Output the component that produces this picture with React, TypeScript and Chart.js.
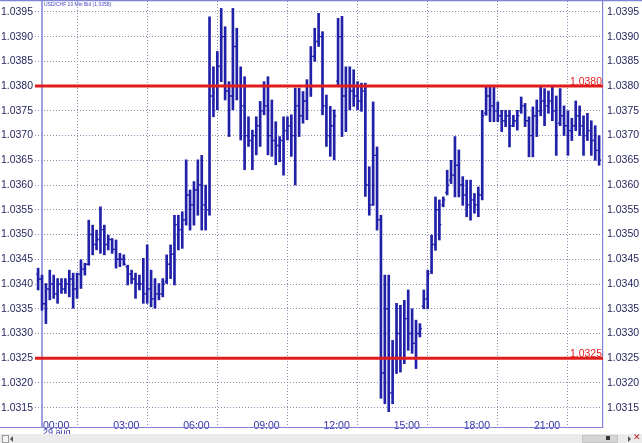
import React, { useEffect, useRef } from "react";
import { Chart, registerables } from "chart.js";

Chart.register(...registerables);

// ---------- data ----------
const TITLE = "USD/CHF 10 Min Bid (1.0358)";
const DATE_LABEL = "29 aug";
const TIME_LABELS = ["00:00", "03:00", "06:00", "09:00", "12:00", "15:00", "18:00", "21:00"];
const TIME_TICKS = [0, 18, 36, 54, 72, 90, 108, 126]; // bar index (10-min bars) of each time label
const Y_TICKS = [
  1.0315, 1.032, 1.0325, 1.033, 1.0335, 1.034, 1.0345, 1.035, 1.0355,
  1.036, 1.0365, 1.037, 1.0375, 1.038, 1.0385, 1.039, 1.0395,
];
const LEVELS = [1.038, 1.0325];
const FIRST_BAR = -1; // first bar is 23:50 of the previous day

const HIGH = [
  1.03432, 1.03418, 1.03401, 1.03428, 1.03418, 1.03411, 1.03411, 1.03411, 1.03428, 1.03422,
  1.03422, 1.03449, 1.03442, 1.03529, 1.03519, 1.03509, 1.03556, 1.03519, 1.03499, 1.03492,
  1.03489, 1.03462, 1.03459, 1.03438, 1.03428, 1.03422, 1.03418, 1.03452, 1.03479, 1.03428,
  1.03411, 1.03401, 1.03411, 1.03459, 1.03479, 1.03539, 1.03539, 1.03546, 1.03651, 1.0359,
  1.03607, 1.03651, 1.0366, 1.036, 1.0394, 1.03839, 1.0387, 1.03957, 1.0392, 1.03809,
  1.03957, 1.03917, 1.03839, 1.03819, 1.03738, 1.03711, 1.03738, 1.03769, 1.03809, 1.03819,
  1.03772, 1.03728, 1.03698, 1.03738, 1.03738, 1.03742, 1.03796, 1.03796, 1.03789, 1.03813,
  1.0388, 1.03917, 1.03947, 1.0391, 1.03782, 1.03759, 1.03752, 1.03937, 1.03941, 1.03839,
  1.03839, 1.03833, 1.03809, 1.03806, 1.03806, 1.03637, 1.03768, 1.03677, 1.03539, 1.03418,
  1.03418, 1.03286, 1.03361, 1.03357, 1.03367, 1.03388, 1.0335, 1.03327, 1.0332, 1.03388,
  1.03428, 1.03499, 1.03576, 1.0357, 1.03576, 1.0363, 1.0365, 1.03698, 1.03671, 1.03617,
  1.0361, 1.0361, 1.03583, 1.03596, 1.03751, 1.03799, 1.03799, 1.03799, 1.03768, 1.03751,
  1.03751, 1.03751, 1.03741, 1.03751, 1.03778, 1.03765, 1.03738, 1.03758, 1.03772, 1.038,
  1.03795, 1.0379, 1.038, 1.0378, 1.03795, 1.0376, 1.0375, 1.03735, 1.0377, 1.0376,
  1.0374, 1.03745, 1.0373, 1.0372, 1.037,
];

const LOW = [
  1.03388, 1.03347, 1.0332, 1.03368, 1.03371, 1.03361, 1.03381, 1.03381, 1.03374, 1.03351,
  1.03371, 1.03391, 1.03418, 1.03438, 1.03459, 1.03469, 1.03462, 1.03459, 1.03469, 1.03462,
  1.03432, 1.03435, 1.03438, 1.03398, 1.03401, 1.03371, 1.03388, 1.03361, 1.03361, 1.03354,
  1.03351, 1.03368, 1.03374, 1.03401, 1.03411, 1.03398, 1.03469, 1.03472, 1.03519, 1.03509,
  1.03519, 1.03539, 1.03509, 1.03509, 1.03539, 1.03738, 1.03752, 1.03809, 1.03772, 1.03698,
  1.03752, 1.03772, 1.03691, 1.03631, 1.03678, 1.03631, 1.03661, 1.03678, 1.03742, 1.03661,
  1.03658, 1.03641, 1.03647, 1.0362, 1.03691, 1.03658, 1.036, 1.03698, 1.03725, 1.03732,
  1.03779, 1.0385, 1.0388, 1.03742, 1.03678, 1.03658, 1.03651, 1.03799, 1.03698, 1.03708,
  1.03752, 1.03759, 1.03752, 1.03749, 1.03577, 1.03539, 1.03559, 1.03509, 1.03169, 1.03158,
  1.03142, 1.03158, 1.03219, 1.03222, 1.03239, 1.03266, 1.0326, 1.03229, 1.03293, 1.0335,
  1.0335, 1.03421, 1.03468, 1.03489, 1.03556, 1.0358, 1.03603, 1.03576, 1.03576, 1.03559,
  1.03536, 1.03529, 1.03543, 1.03536, 1.0357, 1.03741, 1.03728, 1.03728, 1.03728, 1.03708,
  1.03718, 1.03677, 1.03718, 1.03711, 1.03745, 1.03718, 1.03657, 1.03657, 1.03698, 1.0374,
  1.0372, 1.03745, 1.0373, 1.0366, 1.0372, 1.037, 1.0366, 1.0369, 1.0371, 1.037,
  1.0366, 1.0369, 1.0366, 1.0365, 1.0364,
];

const OPEN = [
  1.0342, 1.0341, 1.0336, 1.0339, 1.034, 1.0338, 1.034, 1.0339, 1.034, 1.0341,
  1.0339, 1.0342, 1.0343, 1.0344, 1.035, 1.0348, 1.0349, 1.0351, 1.0348, 1.0349,
  1.0347, 1.0345, 1.0345, 1.03435, 1.0342, 1.0341, 1.034, 1.034, 1.0338, 1.0339,
  1.0337, 1.0338, 1.0338, 1.03405, 1.0344, 1.0346, 1.0352, 1.0351, 1.0353, 1.0358,
  1.0356, 1.0359, 1.036, 1.0356, 1.0355, 1.0378, 1.038, 1.0384, 1.039, 1.0379,
  1.0378, 1.0388, 1.038, 1.0376, 1.037, 1.0369, 1.037, 1.0372, 1.0375, 1.0376,
  1.037, 1.0369, 1.0368, 1.0369, 1.0371, 1.0372, 1.037, 1.0376, 1.0374, 1.0377,
  1.038, 1.0386, 1.0389, 1.039, 1.0376, 1.037, 1.0372, 1.0381, 1.039, 1.0378,
  1.038, 1.0379, 1.0378, 1.0377, 1.0379, 1.036, 1.0356, 1.0366, 1.0353, 1.0322,
  1.0335, 1.0318, 1.0325, 1.033, 1.0325, 1.0333, 1.033, 1.0328, 1.033, 1.03355,
  1.0337, 1.03425, 1.0348, 1.0355, 1.0356, 1.03585, 1.0361, 1.0362, 1.0364, 1.036,
  1.0358, 1.0356, 1.0357, 1.0356, 1.0358, 1.03745, 1.0378, 1.0376, 1.0375, 1.0374,
  1.0373, 1.0374, 1.0372, 1.0373, 1.0375, 1.0376, 1.0373, 1.037, 1.0374, 1.0375,
  1.0377, 1.0376, 1.0377, 1.0375, 1.03725, 1.0374, 1.0372, 1.0371, 1.0372, 1.0374,
  1.0372, 1.037, 1.0371, 1.0369, 1.0367,
];

const CLOSE = [
  1.0341, 1.0336, 1.0339, 1.034, 1.0338, 1.034, 1.0339, 1.034, 1.0341, 1.0339,
  1.0342, 1.0343, 1.0344, 1.035, 1.0348, 1.0349, 1.0351, 1.0348, 1.0349, 1.0347,
  1.0345, 1.0345, 1.0344, 1.0342, 1.0341, 1.034, 1.034, 1.0338, 1.0339, 1.0337,
  1.0338, 1.0338, 1.034, 1.0344, 1.0346, 1.0352, 1.0351, 1.0353, 1.0358, 1.0356,
  1.0359, 1.036, 1.0356, 1.0355, 1.0378, 1.038, 1.0384, 1.039, 1.0379, 1.0378,
  1.0388, 1.038, 1.0376, 1.037, 1.0369, 1.037, 1.0372, 1.0375, 1.0376, 1.037,
  1.0369, 1.0368, 1.0369, 1.0371, 1.0372, 1.037, 1.0376, 1.0374, 1.0377, 1.038,
  1.0386, 1.0389, 1.039, 1.0376, 1.037, 1.0372, 1.0374, 1.039, 1.0378, 1.038,
  1.0379, 1.0378, 1.0377, 1.0379, 1.036, 1.0356, 1.0366, 1.0353, 1.0322, 1.0335,
  1.0318, 1.0325, 1.033, 1.0325, 1.0333, 1.033, 1.0328, 1.033, 1.0331, 1.0337,
  1.0342, 1.0348, 1.0355, 1.0352, 1.0357, 1.036, 1.0362, 1.0364, 1.036, 1.0358,
  1.0356, 1.0357, 1.0356, 1.0358, 1.0374, 1.0378, 1.0376, 1.0375, 1.0374, 1.0373,
  1.0374, 1.0372, 1.0373, 1.0374, 1.0376, 1.0373, 1.037, 1.0374, 1.0375, 1.0377,
  1.0376, 1.0377, 1.0375, 1.037, 1.0374, 1.0372, 1.0371, 1.0372, 1.0374, 1.0372,
  1.037, 1.0371, 1.0369, 1.0367, 1.0365,
];

// ---------- style ----------
const FONT = '"Liberation Sans", Arial, sans-serif';
const NAVY = "#2020a8";
const RED = "#e01c1c";
const GRID = "#8c8cae";
const FRAME = "#8282d6";
const Y_LABEL = "#272760";
const X_LABEL = "#3434a4";
const X_MIN = -1.8;
const X_MAX = 144;
const Y_MIN = 1.03111;
const Y_MAX = 1.03972;

const zeroPad = (s: any) => {
  s.paddingTop = 0;
  s.paddingBottom = 0;
  s.paddingLeft = 0;
  s.paddingRight = 0;
};

const decor = {
  id: "decor",
  beforeDatasetsDraw(chart: any) {
    const { ctx, chartArea: a, scales } = chart;
    const px = scales.x.getPixelForValue(TIME_TICKS[0]);
    ctx.save();
    ctx.strokeStyle = FRAME;
    ctx.lineWidth = 1.5;
    ctx.beginPath();
    ctx.moveTo(px, a.top);
    ctx.lineTo(px, a.bottom);
    ctx.stroke();
    ctx.beginPath();
    ctx.moveTo(0, 0.5);
    ctx.lineTo(chart.width, 0.5);
    ctx.stroke();
    ctx.restore();
  },
  afterDatasetDraw(chart: any, args: any) {
    if (args.index !== 0) return;
    const { ctx, chartArea: a } = chart;
    const ys = chart.scales.y;
    const meta = chart.getDatasetMeta(0);
    ctx.save();
    ctx.beginPath();
    ctx.rect(a.left, a.top, a.right - a.left, a.bottom - a.top);
    ctx.clip();
    ctx.strokeStyle = NAVY;
    ctx.lineWidth = 1.4;
    meta.data.forEach((el: any, k: number) => {
      const x = el.x;
      const yo = ys.getPixelForValue(OPEN[k]);
      const yc = ys.getPixelForValue(CLOSE[k]);
      ctx.beginPath();
      ctx.moveTo(x - 2, yo);
      ctx.lineTo(x, yo);
      ctx.moveTo(x, yc);
      ctx.lineTo(x + 2, yc);
      ctx.stroke();
    });
    ctx.restore();
  },
  afterDraw(chart: any) {
    const { ctx, chartArea: a } = chart;
    const ys = chart.scales.y;
    const xs = chart.scales.x;
    ctx.save();
    // time labels
    ctx.font = `10.5px ${FONT}`;
    ctx.fillStyle = X_LABEL;
    ctx.textAlign = "left";
    ctx.textBaseline = "middle";
    TIME_TICKS.forEach((t, k) => {
      ctx.fillText(TIME_LABELS[k], xs.getPixelForValue(t) + 1, a.bottom - 1);
    });
    ctx.font = `9px ${FONT}`;
    ctx.fillText(DATE_LABEL, xs.getPixelForValue(TIME_TICKS[0]) + 1, a.bottom + 6);
    // bottom axis line
    ctx.strokeStyle = FRAME;
    ctx.lineWidth = 1.2;
    ctx.beginPath();
    ctx.moveTo(0, a.bottom + 0.5);
    ctx.lineTo(a.right, a.bottom + 0.5);
    ctx.stroke();
    // title
    ctx.font = `5px ${FONT}`;
    ctx.fillStyle = "#4646c0";
    ctx.fillText(TITLE, 44, 5);
    // level labels
    ctx.font = `10.5px ${FONT}`;
    ctx.fillStyle = RED;
    ctx.textAlign = "right";
    ctx.textBaseline = "alphabetic";
    LEVELS.forEach((v) => {
      ctx.fillText(v.toFixed(4), a.right - 1, ys.getPixelForValue(v) - 1.5);
    });
    ctx.restore();
  },
};

export default function App() {
  const ref = useRef<HTMLCanvasElement>(null);

  useEffect(() => {
    const canvas = ref.current;
    if (!canvas) return;
    const bars = HIGH.map((h, k) => ({ x: FIRST_BAR + k, y: [LOW[k], h] }));
    const levelSets = LEVELS.map((v) => ({
      type: "line" as const,
      data: [
        { x: X_MIN, y: v },
        { x: X_MAX, y: v },
      ],
      borderColor: RED,
      borderWidth: 3,
      pointRadius: 0,
      order: 0,
    }));
    const chart = new Chart(canvas, {
      type: "bar",
      data: {
        datasets: [
          {
            type: "bar",
            data: bars as any,
            backgroundColor: NAVY,
            borderWidth: 0,
            barThickness: 2,
            grouped: false,
            order: 2,
          } as any,
          ...(levelSets as any),
        ],
      },
      options: {
        animation: false,
        responsive: false,
        devicePixelRatio: 1,
        layout: { padding: { top: 1, left: 0, right: 0, bottom: 0 } },
        plugins: { legend: { display: false }, tooltip: { enabled: false }, title: { display: false } },
        scales: {
          x: {
            type: "linear",
            min: X_MIN,
            max: X_MAX,
            offset: false,
            afterBuildTicks: (s: any) => {
              s.ticks = TIME_TICKS.map((v) => ({ value: v }));
            },
            afterFit: (s: any) => {
              s.height = 16;
              zeroPad(s);
            },
            ticks: { display: false },
            grid: { color: GRID, lineWidth: 1, drawTicks: false },
            border: { display: false, dash: [1, 2] },
          },
          y: {
            type: "linear",
            position: "left",
            min: Y_MIN,
            max: Y_MAX,
            afterBuildTicks: (s: any) => {
              s.ticks = Y_TICKS.map((v) => ({ value: v }));
            },
            afterFit: (s: any) => {
              s.width = 35;
              zeroPad(s);
            },
            ticks: {
              padding: 2,
              color: Y_LABEL,
              font: { family: FONT, size: 10.5 },
              callback: (v: any) => Number(v).toFixed(4),
            },
            grid: { color: GRID, lineWidth: 1, drawTicks: false },
            border: { display: false, dash: [1, 2] },
          },
          y2: {
            type: "linear",
            position: "right",
            min: Y_MIN,
            max: Y_MAX,
            afterBuildTicks: (s: any) => {
              s.ticks = Y_TICKS.map((v) => ({ value: v }));
            },
            afterFit: (s: any) => {
              s.width = 39;
              zeroPad(s);
            },
            ticks: {
              padding: 4,
              color: Y_LABEL,
              font: { family: FONT, size: 10.5 },
              callback: (v: any) => Number(v).toFixed(4),
            },
            grid: { display: false, drawTicks: false },
            border: { display: true, color: FRAME, width: 1.2 },
          },
        },
      },
      plugins: [decor],
    } as any);
    return () => chart.destroy();
  }, []);

  return (
    <div
      style={{
        position: "fixed",
        left: 0,
        top: 0,
        width: 642,
        height: 443,
        background: "#ffffff",
        overflow: "hidden",
      }}
    >
      <canvas ref={ref} width={642} height={443} style={{ display: "block", width: 642, height: 443 }} />
      <div
        style={{
          position: "absolute",
          left: 0,
          top: 434,
          width: 642,
          height: 9,
          background: "#ebebeb",
        }}
      >
        <div style={{ position: "absolute", left: 2, top: 1, width: 5, height: 6, border: "1px solid #9a9a9a", background: "#f4f4f4" }} />
        <div style={{ position: "absolute", left: 10, top: 2, width: 0, height: 0, borderTop: "3px solid transparent", borderBottom: "3px solid transparent", borderRight: "3px solid #555" }} />
        <div style={{ position: "absolute", left: 582, top: 1, width: 34, height: 6, background: "#d6d6d6", border: "1px solid #c4c4c4" }} />
        <div style={{ position: "absolute", left: 606, top: 2, width: 4, height: 4, background: "#333" }} />
        <div style={{ position: "absolute", left: 628, top: 2, width: 0, height: 0, borderTop: "3px solid transparent", borderBottom: "3px solid transparent", borderLeft: "3px solid #555" }} />
        <span style={{ position: "absolute", left: 633, top: -2, fontSize: 9, lineHeight: "11px", color: "#c02020", fontFamily: FONT }}>✕</span>
      </div>
    </div>
  );
}
